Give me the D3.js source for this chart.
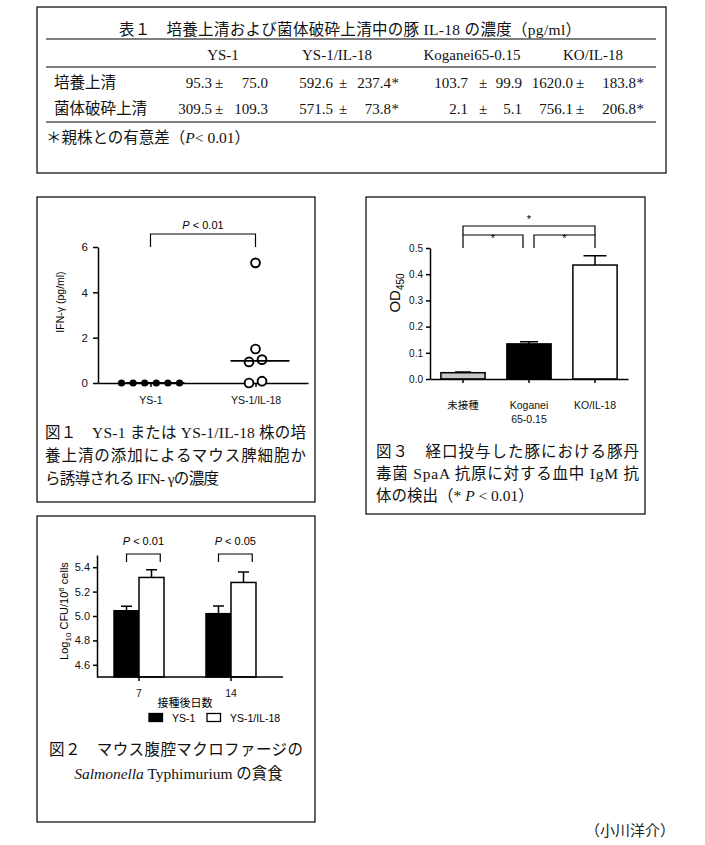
<!DOCTYPE html>
<html><head><meta charset="utf-8">
<script src="https://cdn.jsdelivr.net/npm/d3@7"></script>
<style>
body{margin:0;background:#fff;}
svg{display:block;}
</style></head><body>
<svg id="c" width="705" height="845"></svg>
<script>
// ---------------- DATA ----------------
// Table 1
const tableTitle = "表１　培養上清および菌体破砕上清中の豚 IL-18 の濃度（pg/ml）";
const tableStrains = ["YS-1", "YS-1/IL-18", "Koganei65-0.15", "KO/IL-18"];
const tableRows = ["培養上清", "菌体破砕上清"];
const il18Mean = [[95.3, 592.6, 103.7, 1620.0], [309.5, 571.5, 2.1, 756.1]];
const il18SD = [[75.0, 237.4, 99.9, 183.8], [109.3, 73.8, 5.1, 206.8]];
const il18Sig = [[false, true, false, true], [false, true, false, true]];
const tableNotePre = "＊親株との有意差（";
const tableNotePost = "< 0.01）";

// Figure 1
const fig1Groups = ["YS-1", "YS-1/IL-18"];
const fig1ValuesYS1 = [0, 0, 0, 0, 0, 0];
const fig1ValuesIL18 = [5.3, 1.5, 1.03, 0.93, 0, 0.08];
const fig1Ticks = [0, 2, 4, 6];
const fig1YLabel = "IFN-γ (pg/ml)";
const fig1P = "< 0.01";
const fig1Caption = ["図１　YS-1 または YS-1/IL-18 株の培", "養上清の添加によるマウス脾細胞か", "ら誘導される IFN- γの濃度"];

// Figure 2
const fig2Days = ["7", "14"];
const fig2Strains = ["YS-1", "YS-1/IL-18"];
const fig2MeanYS1 = [5.043, 5.019];
const fig2SDYS1 = [0.037, 0.062];
const fig2MeanIL18 = [5.316, 5.275];
const fig2SDIL18 = [0.064, 0.086];
const fig2Ticks = [4.6, 4.8, 5.0, 5.2, 5.4];
const fig2P = ["< 0.01", "< 0.05"];
const fig2XLabel = "接種後日数";

// Figure 3
const fig3Groups = ["未接種", "Koganei\n65-0.15", "KO/IL-18"];
const fig3Mean = [0.024, 0.134, 0.435];
const fig3SD = [0.003, 0.008, 0.035];
const fig3Ticks = [0.0, 0.1, 0.2, 0.3, 0.4, 0.5];
const fig3Caption = ["図３　経口投与した豚における豚丹", "毒菌 SpaA 抗原に対する血中 IgM 抗", "体の検出（* "];

// ---------------- DRAW ----------------
const SERIF = "'Liberation Serif','Times New Roman','Noto Sans CJK JP',serif";
const SANS = "'Liberation Sans',Arial,'Noto Sans CJK JP',sans-serif";
const svg = d3.select("#c");

// frames
[[37,7,629,166],[37,197,278,305],[366,197,279,317],[37,516,278,306]].forEach(b=>{
  svg.append("rect").attr("x",b[0]).attr("y",b[1]).attr("width",b[2]).attr("height",b[3])
    .attr("fill","none").attr("stroke","#000").attr("stroke-width",1.2);
});

// ---------- Table ----------
const tg = svg.append("g").style("font-family", SERIF).attr("fill","#111");
tg.append("text").attr("x",350).attr("y",35).attr("text-anchor","middle")
  .style("font-size","15.5px").attr("textLength",462).attr("lengthAdjust","spacing").text(tableTitle);
[39,67,122].forEach(y=>tg.append("line").attr("x1",46).attr("x2",656).attr("y1",y).attr("y2",y)
  .attr("stroke","#000").attr("stroke-width",1.2));
const headX = [223, 337, 472, 593];
tableStrains.forEach((s,i)=>tg.append("text").attr("x",headX[i]).attr("y",60)
  .attr("text-anchor","middle").style("font-size","15px").text(s));
const colA = [{m:212,pm:219,s:268},{m:333,pm:343,s:391},{m:468,pm:483,s:522},{m:573,pm:580,s:636}];
const rowY = [88, 114];
tableRows.forEach((r,ri)=>{
  tg.append("text").attr("x",54).attr("y",rowY[ri]).style("font-size","15.5px").text(r);
  il18Mean[ri].forEach((m,ci)=>{
    const a = colA[ci];
    tg.append("text").attr("x",a.m).attr("y",rowY[ri]).attr("text-anchor","end")
      .style("font-size","15px").text(d3.format(".1f")(m));
    tg.append("text").attr("x",a.pm).attr("y",rowY[ri]).attr("text-anchor","middle")
      .style("font-size","15px").text("±");
    tg.append("text").attr("x",a.s).attr("y",rowY[ri]).attr("text-anchor","end")
      .style("font-size","15px").text(d3.format(".1f")(il18SD[ri][ci]));
    if (il18Sig[ri][ci]) tg.append("text").attr("x",a.s+0.5).attr("y",rowY[ri])
      .style("font-size","15px").text("*");
  });
});
const note = tg.append("text").attr("x",46).attr("y",143).style("font-size","15.5px");
note.append("tspan").text(tableNotePre);
note.append("tspan").style("font-style","italic").text("P");
note.append("tspan").text(tableNotePost);

// axis style helper
function styleAxis(g, fs){
  g.selectAll("path,line").attr("stroke","#000").attr("stroke-width",1.5);
  g.selectAll("text").style("font-family",SANS).style("font-size",fs+"px").attr("fill","#111");
}
function caption(lines, x, y0, dy, lens){
  lines.forEach((l,i)=>{
    const t = svg.append("text").attr("x",x).attr("y",y0+i*dy)
      .style("font-family",SERIF).style("font-size","15.5px").attr("fill","#111").text(l);
    if (lens[i]) t.attr("textLength",lens[i]).attr("lengthAdjust","spacing");
  });
}

// ---------- Figure 1 ----------
const y1 = d3.scaleLinear().domain([0,6]).range([383,247]);
const x1 = d3.scalePoint().domain(fig1Groups).range([98,308]).padding(0.5);
const f1 = svg.append("g");
f1.append("g").attr("transform","translate(98,0)")
  .call(d3.axisLeft(y1).tickValues(fig1Ticks).tickFormat(d3.format("d")).tickSize(5).tickSizeOuter(0).tickPadding(5))
  .call(g=>styleAxis(g,11.5));
f1.append("g").attr("transform","translate(0,383)")
  .call(d3.axisBottom(x1).tickSize(4).tickSizeOuter(0).tickPadding(10))
  .call(g=>styleAxis(g,10.5));
function spread(vals, spacing, tol){
  const idx = vals.map((v,i)=>i).sort((a,b)=>vals[a]-vals[b]);
  const off = new Array(vals.length).fill(0);
  let cl = [];
  const flush = ()=>{ cl.forEach((k,j)=>off[k]=(j-(cl.length-1)/2)*spacing); cl=[]; };
  idx.forEach(k=>{ if (cl.length && Math.abs(vals[k]-vals[cl[0]])>tol) flush(); cl.push(k); });
  flush();
  return off;
}
const o1 = spread(fig1ValuesYS1, 11.6, 0.3);
f1.selectAll("circle.a").data(fig1ValuesYS1).join("circle")
  .attr("cx",(d,i)=>x1(fig1Groups[0])+o1[i]).attr("cy",d=>y1(d)).attr("r",3.6).attr("fill","#000");
const o2 = spread(fig1ValuesIL18, 13, 0.3);
f1.selectAll("circle.b").data(fig1ValuesIL18).join("circle")
  .attr("cx",(d,i)=>x1(fig1Groups[1])+o2[i]).attr("cy",d=>y1(d)).attr("r",4.4)
  .attr("fill","#fff").attr("stroke","#000").attr("stroke-width",1.9);
[fig1ValuesYS1, fig1ValuesIL18].forEach((v,i)=>{
  const m = d3.median(v), cx = x1(fig1Groups[i]);
  f1.append("line").attr("x1",cx-25).attr("x2",cx+34).attr("y1",y1(m)).attr("y2",y1(m))
    .attr("stroke","#000").attr("stroke-width",1.8);
});
f1.append("path").attr("d",`M${x1(fig1Groups[0])},${y1(6)}V234H${x1(fig1Groups[1])}V${y1(6)}`)
  .attr("fill","none").attr("stroke","#000").attr("stroke-width",1.2);
const p1 = f1.append("text").attr("x",(x1(fig1Groups[0])+x1(fig1Groups[1]))/2).attr("y",229)
  .attr("text-anchor","middle").style("font-family",SANS).style("font-size","11px");
p1.append("tspan").style("font-style","italic").text("P");
p1.append("tspan").text(" "+fig1P);
f1.append("text").attr("transform",`translate(64,${302}) rotate(-90)`).attr("text-anchor","middle")
  .style("font-family",SANS).style("font-size","10.5px").text(fig1YLabel);
caption(fig1Caption, 45, 438, 23, [261, 261, 174]);

// ---------- Figure 3 ----------
const y3 = d3.scaleLinear().domain([0,0.5]).range([379,248]);
const x3 = d3.scaleBand().domain(fig3Groups).range([430,628]).paddingInner(0.33).paddingOuter(0.165);
const f3 = svg.append("g");
const c3 = g=>x3(g)+x3.bandwidth()/2;
f3.selectAll("rect.bar").data(fig3Groups).join("rect")
  .attr("x",d=>x3(d)).attr("width",x3.bandwidth())
  .attr("y",(d,i)=>y3(fig3Mean[i])).attr("height",(d,i)=>y3(0)-y3(fig3Mean[i]))
  .attr("fill",(d,i)=>["#c8c8c8","#000","#fff"][i]).attr("stroke","#000").attr("stroke-width",1.5);
fig3Groups.forEach((g,i)=>{
  const top = y3(fig3Mean[i]+fig3SD[i]), hw = [8,9,11.5][i];
  f3.append("path").attr("d",`M${c3(g)},${y3(fig3Mean[i])}V${top}M${c3(g)-hw},${top}H${c3(g)+hw}`)
    .attr("stroke","#000").attr("stroke-width",1.5).attr("fill","none");
});
f3.append("g").attr("transform","translate(430,0)")
  .call(d3.axisLeft(y3).tickValues(fig3Ticks).tickFormat(d3.format(".1f")).tickSize(4).tickSizeOuter(0).tickPadding(3))
  .call(g=>styleAxis(g,10));
f3.append("g").attr("transform","translate(0,379)")
  .call(d3.axisBottom(x3).tickSize(4).tickSizeOuter(0).tickFormat(()=>""))
  .call(g=>styleAxis(g,10.5));
fig3Groups.forEach(g=>{
  g.split("\n").forEach((l,j)=>f3.append("text").attr("x",c3(g)).attr("y",409+j*14)
    .attr("text-anchor","middle").style("font-family",SANS).style("font-size","10.5px").attr("fill","#111").text(l));
});
const bk = (xa,xb,yt,yb)=>f3.append("path").attr("d",`M${xa},${yb}V${yt}H${xb}V${yb}`)
  .attr("fill","none").attr("stroke","#000").attr("stroke-width",1.2);
bk(c3(fig3Groups[0]), c3(fig3Groups[1])-6, 235, 248);
bk(c3(fig3Groups[1])+5, c3(fig3Groups[2]), 235, 248);
bk(c3(fig3Groups[0]), c3(fig3Groups[2]), 226, 235);
[[(c3(fig3Groups[0])+c3(fig3Groups[1])-6)/2,242],[(c3(fig3Groups[1])+5+c3(fig3Groups[2]))/2,242],
 [(c3(fig3Groups[0])+c3(fig3Groups[2]))/2,223]].forEach(p=>
  f3.append("text").attr("x",p[0]).attr("y",p[1]).attr("text-anchor","middle").attr("fill","#000")
    .style("font-family",SANS).style("font-size","11px").text("*"));
const od = f3.append("text").attr("transform","translate(400,293) rotate(-90)").attr("text-anchor","middle")
  .style("font-family",SANS).style("font-size","15px");
od.append("tspan").text("OD");
od.append("tspan").attr("dy",4).style("font-size","10px").text("450");
caption(fig3Caption.slice(0,2), 376, 457, 22, [263, 263]);
const c3l = svg.append("text").attr("x",376).attr("y",501).style("font-family",SERIF)
  .style("font-size","15.5px").attr("fill","#111");
c3l.append("tspan").text(fig3Caption[2]);
c3l.append("tspan").style("font-style","italic").text("P");
c3l.append("tspan").text(" < 0.01）");

// ---------- Figure 2 ----------
const y2 = d3.scaleLinear().domain([4.5,5.5]).range([677,555]);
const x2 = d3.scaleBand().domain(fig2Days).range([97,273]).paddingInner(0.4565).paddingOuter(0.185);
const x2s = d3.scaleBand().domain(fig2Strains).range([0,x2.bandwidth()]);
const f2 = svg.append("g");
const series2 = [{s:fig2Strains[0],m:fig2MeanYS1,sd:fig2SDYS1,fill:"#000"},
                 {s:fig2Strains[1],m:fig2MeanIL18,sd:fig2SDIL18,fill:"#fff"}];
series2.forEach(se=>{
  fig2Days.forEach((d,i)=>{
    const x = x2(d)+x2s(se.s), w = x2s.bandwidth(), cx = x+w/2;
    f2.append("rect").attr("x",x).attr("width",w).attr("y",y2(se.m[i])).attr("height",y2(4.5)-y2(se.m[i]))
      .attr("fill",se.fill).attr("stroke","#000").attr("stroke-width",1.5);
    const top = y2(se.m[i]+se.sd[i]);
    f2.append("path").attr("d",`M${cx},${y2(se.m[i])}V${top}M${cx-5.5},${top}H${cx+5.5}`)
      .attr("stroke","#000").attr("stroke-width",1.5).attr("fill","none");
  });
});
f2.append("g").attr("transform","translate(97,0)")
  .call(d3.axisLeft(y2).tickValues(fig2Ticks).tickFormat(d3.format(".1f")).tickSize(4).tickSizeOuter(0).tickPadding(3))
  .call(g=>styleAxis(g,11));
f2.append("g").attr("transform","translate(0,677)")
  .call(d3.axisBottom(x2).tickSize(4).tickSizeOuter(0).tickPadding(9))
  .call(g=>{ g.select(".domain").attr("d","M97,0H283"); styleAxis(g,10.5); });
fig2Days.forEach((d,i)=>{
  const xa = x2(d)+x2s(fig2Strains[0])+x2s.bandwidth()/2;
  const xb = x2(d)+x2s(fig2Strains[1])+x2s.bandwidth()*0.85;
  f2.append("path").attr("d",`M${xa},562V554H${xb}V562`).attr("fill","none")
    .attr("stroke","#000").attr("stroke-width",1.2);
  const t = f2.append("text").attr("x",(xa+xb)/2).attr("y",545).attr("text-anchor","middle")
    .style("font-family",SANS).style("font-size","11px");
  t.append("tspan").style("font-style","italic").text("P");
  t.append("tspan").text(" "+fig2P[i]);
});
f2.append("text").attr("x",185).attr("y",707).attr("text-anchor","middle")
  .style("font-family",SANS).style("font-size","11px").text(fig2XLabel);
const lg = f2.append("text").attr("transform","translate(68,611) rotate(-90)").attr("text-anchor","middle")
  .style("font-family",SANS).style("font-size","11px");
lg.append("tspan").text("Log");
lg.append("tspan").attr("dy",3).style("font-size","8px").text("10");
lg.append("tspan").attr("dy",-3).text(" CFU/10");
lg.append("tspan").attr("dy",-4).style("font-size","8px").text("6");
lg.append("tspan").attr("dy",4).text(" cells");
// legend
const legX = [149, 207];
series2.forEach((se,i)=>{
  f2.append("rect").attr("x",legX[i]).attr("y",713.5).attr("width",13.5).attr("height",8)
    .attr("fill",se.fill).attr("stroke","#000").attr("stroke-width",1.3);
  f2.append("text").attr("x",legX[i]+23).attr("y",721.5).style("font-family",SANS)
    .style("font-size","10.5px").text(se.s);
});
caption(["図２　マウス腹腔マクロファージの"], 49, 755, 0, [254]);
const c2l = svg.append("text").attr("x",178.5).attr("y",779).attr("text-anchor","middle")
  .style("font-family",SERIF).style("font-size","15.5px").attr("fill","#111");
c2l.append("tspan").style("font-style","italic").text("Salmonella");
c2l.append("tspan").text(" Typhimurium の貪食");

// signature
svg.append("text").attr("x",675).attr("y",836).attr("text-anchor","end")
  .style("font-family","'Noto Sans CJK JP',sans-serif").style("font-size","15px").attr("fill","#222")
  .text("（小川洋介）");
</script>
</body></html>
